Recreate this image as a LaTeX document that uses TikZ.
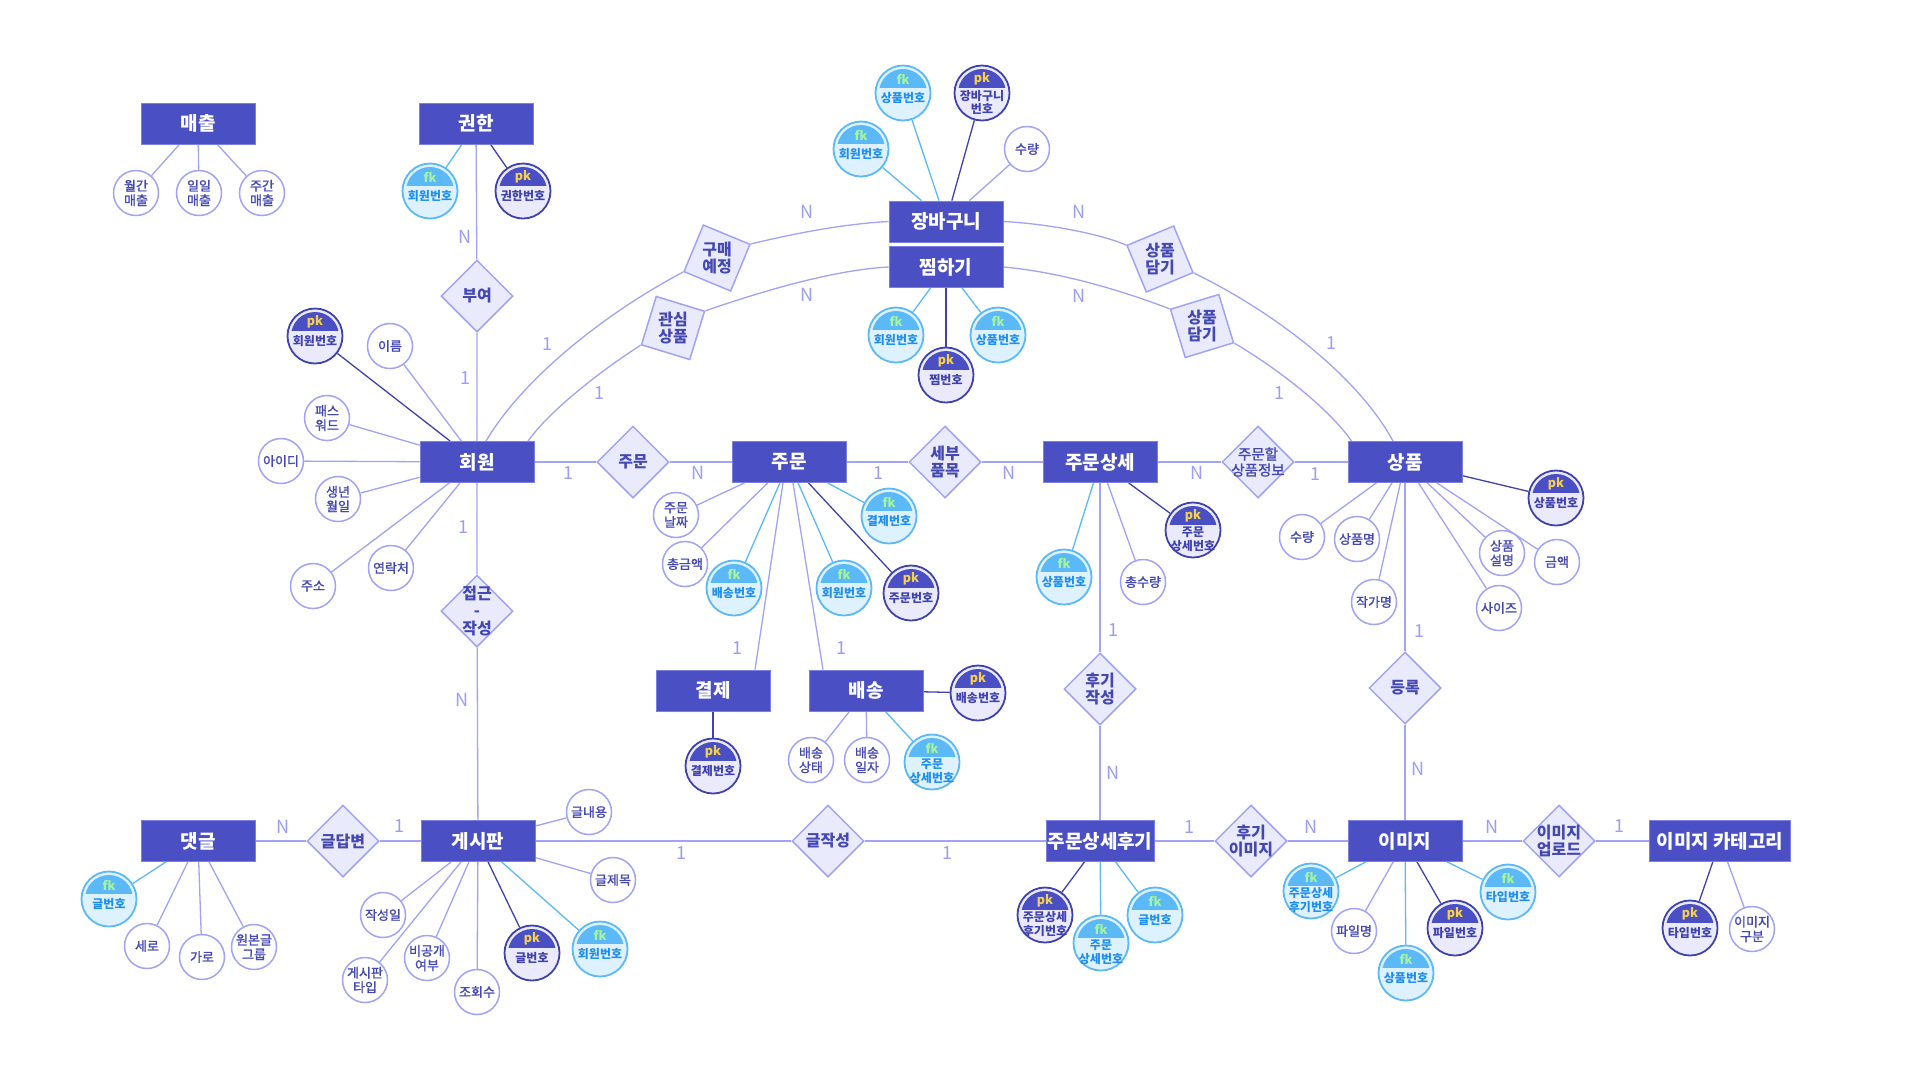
\documentclass[tikz,border=0pt]{standalone}
\usepackage{fontspec}
\setmainfont{Noto Sans CJK KR}
\newfontfamily\medfont[FakeBold=1.4]{Noto Sans CJK KR}
\usetikzlibrary{shapes.geometric,calc}
\pgfdeclarelayer{bg}
\pgfdeclarelayer{paper}
\pgfsetlayers{paper,bg,main}
\definecolor{entc}{HTML}{4A4FC3}
\definecolor{entb}{HTML}{7C80E2}
\definecolor{linec}{HTML}{A0A3F6}
\definecolor{attrt}{HTML}{4448B2}
\definecolor{relf}{HTML}{EAEAFD}
\definecolor{fkb}{HTML}{5CB9F7}
\definecolor{fkf}{HTML}{DEF1FF}
\definecolor{fkt}{HTML}{1E8FF0}
\definecolor{fktag}{HTML}{A6F59A}
\definecolor{pkb}{HTML}{3F42AE}
\definecolor{pkf}{HTML}{EAEAFC}
\definecolor{pktag}{HTML}{F7D14D}
\definecolor{cardc}{HTML}{9B9EF2}
\tikzset{
 ent/.style={rectangle, fill=entc, draw=entb, line width=0.8pt, minimum width=114pt, minimum height=41pt, inner sep=2pt, text=white, font=\fontsize{19}{22}\selectfont\bfseries},
 attr/.style={circle, draw=linec, line width=1.5pt, fill=white, minimum size=45pt, inner sep=0pt, align=center, text=attrt, font=\medfont\fontsize{13}{14.5}\selectfont},
 reld/.style={diamond, aspect=1, draw=linec, line width=1.5pt, fill=relf, minimum width=72pt, minimum height=72pt, inner sep=0pt},
 relt/.style={align=center, text=attrt, font=\fontsize{16}{17.5}\selectfont\bfseries, inner sep=0pt},
 fkcirc/.style={circle, draw=fkb, fill=fkf, line width=1.8pt, minimum size=55pt, inner sep=0pt,
   path picture={\begin{scope}\clip ([yshift=5.5pt]path picture bounding box.west) rectangle (path picture bounding box.north east);
   \fill[fkb] (path picture bounding box.center) circle (24pt);\end{scope}}},
 pkcirc/.style={circle, draw=pkb, fill=pkf, line width=1.8pt, minimum size=55pt, inner sep=0pt,
   path picture={\begin{scope}\clip ([yshift=5.5pt]path picture bounding box.west) rectangle (path picture bounding box.north east);
   \fill[entc] (path picture bounding box.center) circle (24pt);\end{scope}}},
 fktag/.style={text=fktag, font=\fontsize{12.5}{13}\selectfont\bfseries, inner sep=0pt},
 pktag/.style={text=pktag, font=\fontsize{12.5}{13}\selectfont\bfseries, inner sep=0pt},
 fklab/.style={text=fkt, align=center, font=\fontsize{12}{13.5}\selectfont\bfseries, inner sep=0pt},
 pklab/.style={text=pkb, align=center, font=\fontsize{12}{13.5}\selectfont\bfseries, inner sep=0pt},
 al/.style={draw=linec, line width=1.3pt},
 fl/.style={draw=fkb, line width=1.3pt},
 pl/.style={draw=pkb, line width=1.3pt},
 card/.style={text=cardc, font=\fontsize{18}{18}\selectfont, inner sep=0pt},
}
\newcommand{\attrnode}[3]{\node[attr] (#1) at (#2) {#3};}
\newcommand{\relnode}[4][]{\node[reld,#1] (#2) at (#3) {}; \node[relt] (#2t) at (#2.center) {#4};}
\newcommand{\keynode}[5]{\node[#3circ] (#1) at (#2) {};
 \node[#3tag] (#1t) at ($(#1.center)+(0,-14)$) {#3};
 \node[#3lab] (#1l) at ($(#1.center)+(0,#5)$) {#4};}
\newcommand{\cardnode}[3]{\node[card] (#1) at (#2) {#3};}
\begin{document}
\begin{tikzpicture}[x=1pt,y=-1pt]
\useasboundingbox (0,0) rectangle (1920,1080);
\begin{pgfonlayer}{paper}
\fill[white] (0,0) rectangle (1920,1080);
\end{pgfonlayer}
% entities
\node[ent] (sales) at (198,123.5) {매출};
\node[ent] (auth) at (476,123.5) {권한};
\node[ent] (cart) at (946,221.5) {장바구니};
\node[ent] (wish) at (946,267) {찜하기};
\node[ent] (mem) at (477,462) {회원};
\node[ent] (ord) at (789,462) {주문};
\node[ent] (odet) at (1100,462) {주문상세};
\node[ent] (prod) at (1405,462) {상품};
\node[ent] (pay) at (713,690.5) {결제};
\node[ent] (dlv) at (866,690.5) {배송};
\node[ent] (cmt) at (198,841) {댓글};
\node[ent] (brd) at (478,841) {게시판};
\node[ent,minimum width=108pt,inner sep=1pt] (rev) at (1100,841) {주문상세후기};
\node[ent] (img) at (1405,841) {이미지};
\node[ent,minimum width=141pt] (icat) at (1720,841) {이미지 카테고리};
% relationships
\relnode{rBuyeo}{477,296}{부여}
\relnode[rotate=22.5]{rGumae}{717,258}{구매\\예정}
\relnode[rotate=28]{rGwansim}{673,328}{관심\\상품}
\relnode[rotate=-22.5]{rDamA}{1160,259}{상품\\담기}
\relnode[rotate=-28]{rDamB}{1202,326}{상품\\담기}
\relnode{rJumun}{633,462}{주문}
\relnode{rSebu}{945,462}{세부\\품목}
\node[reld] (rJinfo) at (1258,462) {};
\node[relt,font=\medfont\fontsize{14.5}{16}\selectfont] (rJinfot) at (rJinfo.center) {주문할\\상품정보};
\relnode{rJeopgeun}{477,611}{접근\\-\\작성}
\relnode{rHugi}{1100,689}{후기\\작성}
\relnode{rDeung}{1405,688}{등록}
\relnode{rDab}{343,841}{글답변}
\relnode{rGeul}{828,841}{글작성}
\relnode{rHimg}{1251,841}{후기\\이미지}
\relnode{rUp}{1559,841}{이미지\\업로드}
% plain attributes
\attrnode{s1}{136,193}{월간\\매출}
\attrnode{s2}{199,193}{일일\\매출}
\attrnode{s3}{262,193}{주간\\매출}
\attrnode{m1}{390,346}{이름}
\attrnode{m2}{327,418}{패스\\워드}
\attrnode{m3}{281,461}{아이디}
\attrnode{m4}{338,499}{생년\\월일}
\attrnode{m5}{313,586}{주소}
\attrnode{m6}{391,568}{연락처}
\attrnode{c1}{1027,149}{수량}
\attrnode{o1}{676,515}{주문\\날짜}
\attrnode{o2}{685,564}{총금액}
\attrnode{d1}{811,760}{배송\\상태}
\attrnode{d2}{867,760}{배송\\일자}
\attrnode{od1}{1143,582}{총수량}
\attrnode{p1}{1302,537}{수량}
\attrnode{p2}{1357,539}{상품명}
\attrnode{p3}{1374,602}{작가명}
\attrnode{p4}{1502,553}{상품\\설명}
\attrnode{p5}{1557,562}{금액}
\attrnode{p6}{1499,608}{사이즈}
\attrnode{cm1}{147,946}{세로}
\attrnode{cm2}{202,957}{가로}
\attrnode{cm3}{254,947}{원본글\\그룹}
\attrnode{b1}{589,812}{글내용}
\attrnode{b2}{613,880}{글제목}
\attrnode{b3}{383,915}{작성일}
\attrnode{b4}{365,980}{게시판\\타입}
\attrnode{b5}{427,958}{비공개\\여부}
\attrnode{b6}{477,992}{조회수}
\attrnode{i1}{1354,931}{파일명}
\attrnode{ic1}{1752,929}{이미지\\구분}
% key attributes
\keynode{ak1}{430,191}{fk}{회원번호}{5}
\keynode{ak2}{523,191}{pk}{권한번호}{5}
\keynode{mk1}{315,336}{pk}{회원번호}{5}
\keynode{ck1}{903,93}{fk}{상품번호}{5}
\keynode{ck2}{982,93}{pk}{장바구니\\번호}{9.5}
\keynode{ck3}{861,149}{fk}{회원번호}{5}
\keynode{wk1}{896,335}{fk}{회원번호}{5}
\keynode{wk2}{946,375}{pk}{찜번호}{5}
\keynode{wk3}{998,335}{fk}{상품번호}{5}
\keynode{ok1}{734,588}{fk}{배송번호}{5}
\keynode{ok2}{844,588}{fk}{회원번호}{5}
\keynode{ok3}{889,516}{fk}{결제번호}{5}
\keynode{ok4}{911,593}{pk}{주문번호}{5}
\keynode{yk1}{713,766}{pk}{결제번호}{5}
\keynode{dk1}{978,693}{pk}{배송번호}{5}
\keynode{dk2}{932,762}{fk}{주문\\상세번호}{9}
\keynode{odk1}{1064,577}{fk}{상품번호}{5}
\keynode{odk2}{1193,530}{pk}{주문\\상세번호}{9}
\keynode{pk1}{1556,498}{pk}{상품번호}{5}
\keynode{cmk1}{109,899}{fk}{글번호}{5}
\keynode{bk1}{532,953}{pk}{글번호}{5}
\keynode{bk2}{600,949}{fk}{회원번호}{5}
\keynode{rk1}{1045,915}{pk}{주문상세\\후기번호}{9}
\keynode{rk2}{1101,943}{fk}{주문\\상세번호}{9}
\keynode{rk3}{1155,915}{fk}{글번호}{5}
\keynode{ik1}{1311,891}{fk}{주문상세\\후기번호}{9}
\keynode{ik2}{1455,928}{pk}{파일번호}{5}
\keynode{ik3}{1508,892}{fk}{타입번호}{5}
\keynode{ik4}{1406,973}{fk}{상품번호}{5}
\keynode{ick1}{1690,928}{pk}{타입번호}{5}
% cardinalities
\cardnode{n1}{465,237}{N}
\cardnode{n2}{465,378}{1}
\cardnode{n3}{547,344}{1}
\cardnode{n4}{807,212}{N}
\cardnode{n5}{599,393}{1}
\cardnode{n6}{807,295}{N}
\cardnode{n7}{1079,212}{N}
\cardnode{n8}{1331,343}{1}
\cardnode{n9}{1079,296}{N}
\cardnode{n10}{1279,393}{1}
\cardnode{n11}{568,473}{1}
\cardnode{n12}{698,473}{N}
\cardnode{n13}{878,473}{1}
\cardnode{n14}{1009,473}{N}
\cardnode{n15}{1197,473}{N}
\cardnode{n16}{1315,474}{1}
\cardnode{n17}{737,648}{1}
\cardnode{n18}{841,648}{1}
\cardnode{n19}{1113,630}{1}
\cardnode{n20}{1113,773}{N}
\cardnode{n21}{1419,631}{1}
\cardnode{n22}{1418,769}{N}
\cardnode{n23}{463,527}{1}
\cardnode{n24}{462,700}{N}
\cardnode{n25}{283,827}{N}
\cardnode{n26}{399,826}{1}
\cardnode{n27}{681,853}{1}
\cardnode{n28}{947,853}{1}
\cardnode{n29}{1189,827}{1}
\cardnode{n30}{1311,827}{N}
\cardnode{n31}{1492,827}{N}
\cardnode{n32}{1619,826}{1}
\begin{pgfonlayer}{bg}
% relationship lines
\draw[al] (auth) -- (rBuyeo) -- (mem);
\draw[al] (mem) -- (rJumun) -- (ord) -- (rSebu) -- (odet) -- (rJinfo) -- (prod);
\draw[al] (mem) -- (rJeopgeun) -- (brd);
\draw[al] (odet) -- (rHugi) -- (rev);
\draw[al] (prod) -- (rDeung) -- (img);
\draw[al] (cmt) -- (rDab) -- (brd) -- (rGeul) -- (rev) -- (rHimg) -- (img) -- (rUp) -- (icat);
\draw[al] ($(pay.north)+(42,0)$) -- ($(ord.south)+(-6,0)$);
\draw[al] ($(dlv.north)+(-43,0)$) -- ($(ord.south)+(4,0)$);
\draw[al] ($(mem.north)+(9,0)$) .. controls (522,380) and (602,315) .. (rGumae.west);
\draw[al] (rGumae.east) .. controls (792,234) and (842,224) .. (cart.west);
\draw[al] ($(mem.north)+(51,0)$) .. controls (550,410) and (602,370) .. (rGwansim.west);
\draw[al] (rGwansim.east) .. controls (760,292) and (832,270) .. (wish.west);
\draw[al] (cart.east) .. controls (1050,224) and (1100,234) .. (rDamA.west);
\draw[al] (rDamA.east) .. controls (1280,315) and (1360,380) .. ($(prod.north)+(-12,0)$);
\draw[al] (wish.east) .. controls (1060,272) and (1120,290) .. (rDamB.west);
\draw[al] (rDamB.east) .. controls (1280,370) and (1330,410) .. ($(prod.north west)+(4,0)$);
% attribute lines
\foreach \a in {s1,s2,s3} \draw[al] (sales) -- (\a);
\draw[fl] (auth) -- (ak1); \draw[pl] (auth) -- (ak2);
\foreach \a in {m1,m2,m3,m4,m5,m6} \draw[al] (mem) -- (\a);
\draw[pl] (mem) -- (mk1);
\draw[al] (cart) -- (c1); \draw[fl] (cart) -- (ck1); \draw[pl] (cart) -- (ck2); \draw[fl] (cart) -- (ck3);
\draw[fl] (wish) -- (wk1); \draw[pl] (wish) -- (wk2); \draw[fl] (wish) -- (wk3);
\draw[al] (ord) -- (o1); \draw[al] (ord) -- (o2);
\draw[fl] (ord) -- (ok1); \draw[fl] (ord) -- (ok2); \draw[fl] (ord) -- (ok3); \draw[pl] (ord) -- (ok4);
\draw[pl] (pay) -- (yk1);
\draw[al] (dlv) -- (d1); \draw[al] (dlv) -- (d2); \draw[pl] (dlv) -- (dk1); \draw[fl] (dlv) -- (dk2);
\draw[al] (odet) -- (od1); \draw[fl] (odet) -- (odk1); \draw[pl] (odet) -- (odk2);
\foreach \a in {p1,p2,p3,p4,p5,p6} \draw[al] (prod) -- (\a);
\draw[pl] (prod) -- (pk1);
\foreach \a in {cm1,cm2,cm3} \draw[al] (cmt) -- (\a);
\draw[fl] (cmt) -- (cmk1);
\foreach \a in {b1,b2,b3,b4,b5,b6} \draw[al] (brd) -- (\a);
\draw[pl] (brd) -- (bk1); \draw[fl] (brd) -- (bk2);
\draw[pl] (rev) -- (rk1); \draw[fl] (rev) -- (rk2); \draw[fl] (rev) -- (rk3);
\draw[fl] (img) -- (ik1); \draw[al] (img) -- (i1); \draw[pl] (img) -- (ik2); \draw[fl] (img) -- (ik3); \draw[fl] (img) -- (ik4);
\draw[pl] (icat) -- (ick1); \draw[al] (icat) -- (ic1);
\end{pgfonlayer}
\end{tikzpicture}
\end{document}
